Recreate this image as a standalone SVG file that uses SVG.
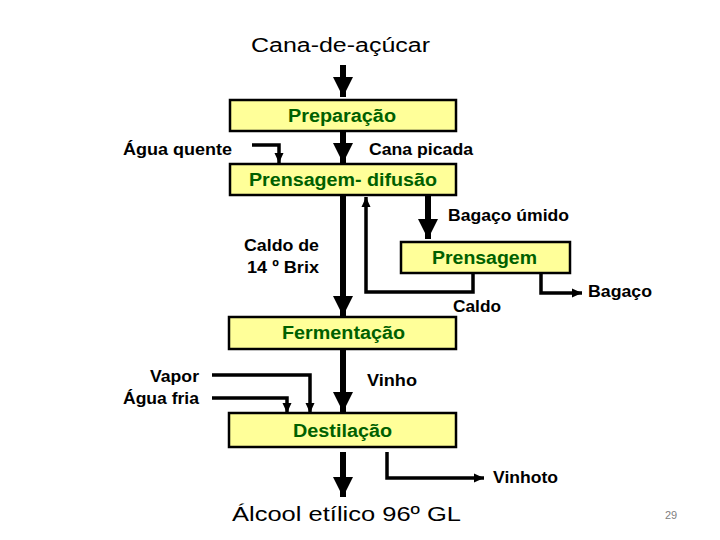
<svg xmlns="http://www.w3.org/2000/svg" width="720" height="540" viewBox="0 0 720 540">
<defs>
<style>
.box{fill:#FFFF99;stroke:#000;stroke-width:2.5}
.bt{font-family:"Liberation Sans",Arial,sans-serif;font-weight:bold;font-size:17.5px;fill:#006000}
.lb{font-family:"Liberation Sans",Arial,sans-serif;font-weight:bold;font-size:17px;fill:#000}
.big{font-family:"Liberation Sans",Arial,sans-serif;font-size:20px;fill:#000}
.thick{stroke:#000;stroke-width:6;fill:none;marker-end:url(#hb)}
.thin{stroke:#000;stroke-width:3.5;fill:none;marker-end:url(#hs)}
</style>
<marker id="hb" markerUnits="userSpaceOnUse" markerWidth="20" markerHeight="20" viewBox="0 0 20 20" refX="20" refY="10" orient="auto">
<path d="M0,0 L20,10 L0,20 Z" fill="#000"/>
</marker>
<marker id="hs" markerUnits="userSpaceOnUse" markerWidth="10" markerHeight="10" viewBox="0 0 10 10" refX="10" refY="5" orient="auto">
<path d="M0,0.5 L10,5 L0,9.5 Z" fill="#000"/>
</marker>
</defs>
<rect width="720" height="540" fill="#fff"/>
<g id="connectors">
<line class="thick" x1="343" y1="65" x2="343" y2="97"/>
<line class="thick" x1="343" y1="131" x2="343" y2="163"/>
<line class="thick" x1="343" y1="196" x2="343" y2="316"/>
<line class="thick" x1="428" y1="196" x2="428" y2="239"/>
<line class="thick" x1="343" y1="349" x2="343" y2="412"/>
<line class="thick" x1="343" y1="452" x2="343" y2="497"/>
<path class="thin" d="M252,145 H279 V163"/>
<path class="thin" d="M473,273 V292 H366 V197"/>
<path class="thin" d="M541,273 V293 H582"/>
<path class="thin" d="M212,375 H310 V413"/>
<path class="thin" d="M212,398 H287 V413"/>
<path class="thin" d="M387,452 V478 H484"/>
</g>
<g id="preparacao">
<rect class="box" x="230" y="100" width="226" height="31"/>
<text class="bt" x="288" y="122" textLength="108" lengthAdjust="spacingAndGlyphs">Preparação</text>
</g>
<g id="prensagem-difusao">
<rect class="box" x="230" y="164" width="226" height="31"/>
<text class="bt" x="249" y="186" textLength="188" lengthAdjust="spacingAndGlyphs">Prensagem- difusão</text>
</g>
<g id="prensagem">
<rect class="box" x="401" y="242" width="169" height="31"/>
<text class="bt" x="432" y="264" textLength="105" lengthAdjust="spacingAndGlyphs">Prensagem</text>
</g>
<g id="fermentacao">
<rect class="box" x="229" y="317" width="227" height="32"/>
<text class="bt" x="282" y="339" textLength="123" lengthAdjust="spacingAndGlyphs">Fermentação</text>
</g>
<g id="destilacao">
<rect class="box" x="229" y="413" width="227" height="34"/>
<text class="bt" x="293" y="437" textLength="99" lengthAdjust="spacingAndGlyphs">Destilação</text>
</g>
<g id="labels">
<text class="big" x="251" y="52" textLength="179" lengthAdjust="spacingAndGlyphs">Cana-de-açúcar</text>
<text class="lb" x="123" y="155" textLength="109" lengthAdjust="spacingAndGlyphs">Água quente</text>
<text class="lb" x="369" y="155" textLength="104" lengthAdjust="spacingAndGlyphs">Cana picada</text>
<text class="lb" x="448" y="221" textLength="121" lengthAdjust="spacingAndGlyphs">Bagaço úmido</text>
<text class="lb" x="244" y="251" textLength="75" lengthAdjust="spacingAndGlyphs">Caldo de</text>
<text class="lb" x="247" y="273" textLength="72" lengthAdjust="spacingAndGlyphs">14 º Brix</text>
<text class="lb" x="588" y="297" textLength="64" lengthAdjust="spacingAndGlyphs">Bagaço</text>
<text class="lb" x="453" y="312" textLength="48" lengthAdjust="spacingAndGlyphs">Caldo</text>
<text class="lb" x="150" y="382" textLength="49" lengthAdjust="spacingAndGlyphs">Vapor</text>
<text class="lb" x="123" y="404" textLength="76" lengthAdjust="spacingAndGlyphs">Água fria</text>
<text class="lb" x="367" y="386" textLength="50" lengthAdjust="spacingAndGlyphs">Vinho</text>
<text class="lb" x="493" y="483" textLength="65" lengthAdjust="spacingAndGlyphs">Vinhoto</text>
<text class="big" x="232" y="521" font-size="22" textLength="229" lengthAdjust="spacingAndGlyphs">Álcool etílico 96º GL</text>
<text x="665" y="519" font-family="'Liberation Sans',Arial,sans-serif" font-size="11" fill="#808080">29</text>
</g>
</svg>
